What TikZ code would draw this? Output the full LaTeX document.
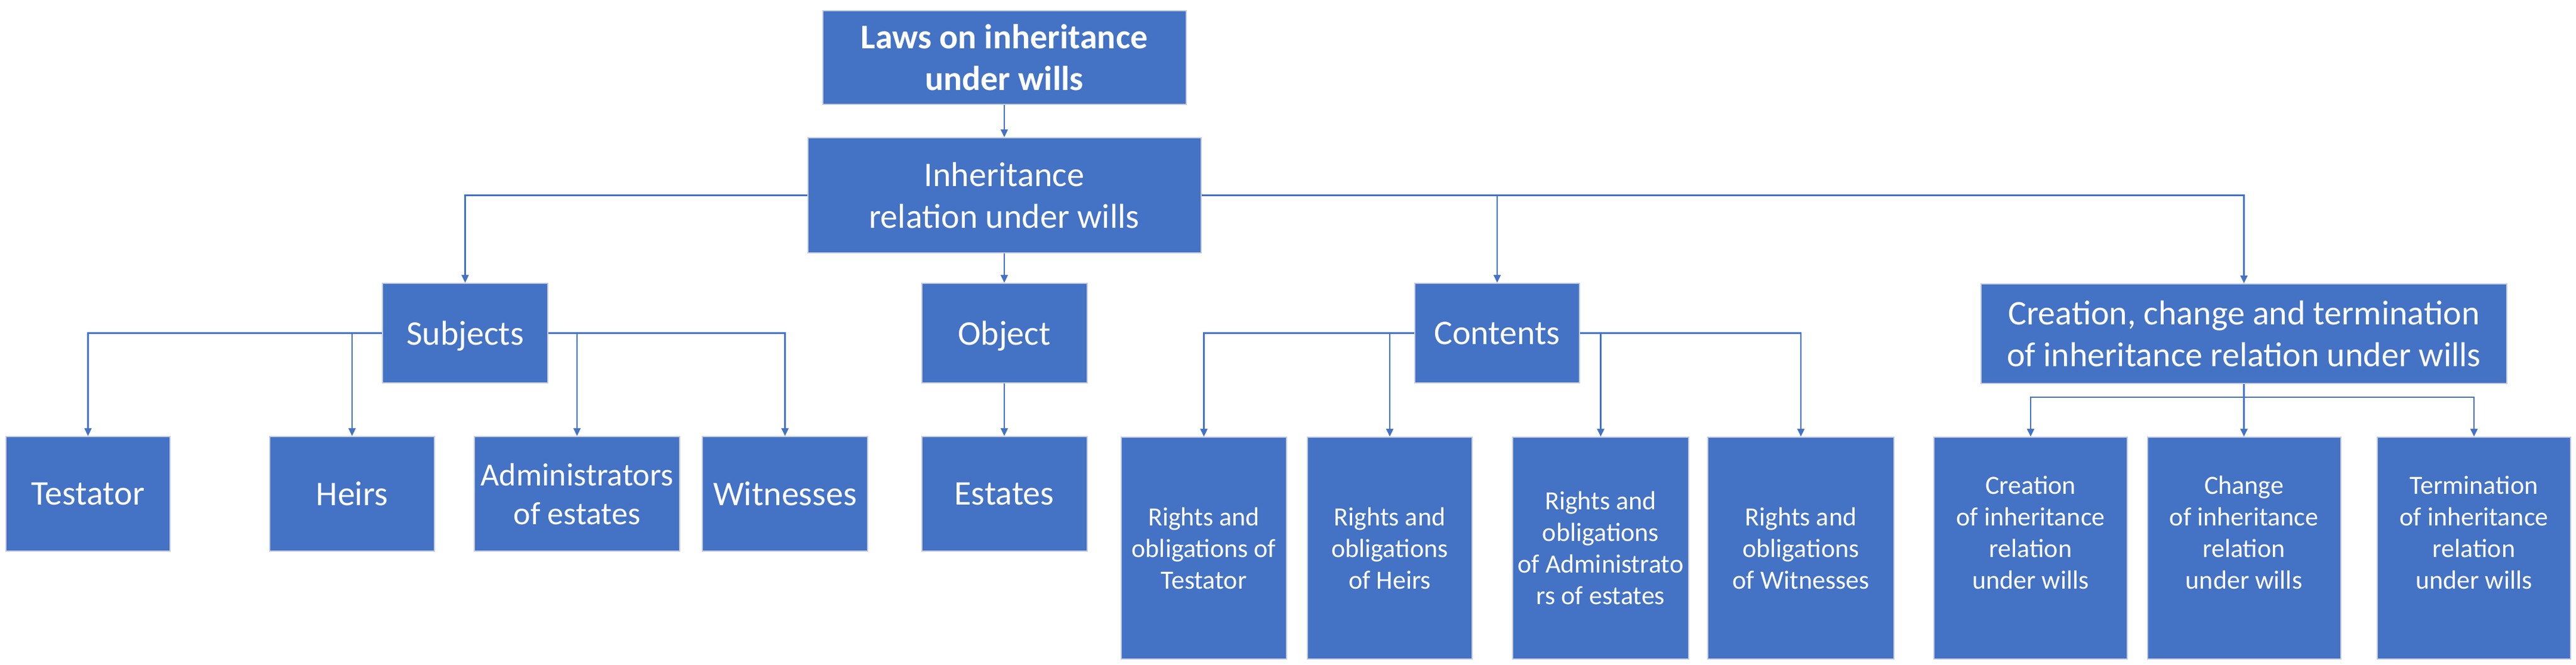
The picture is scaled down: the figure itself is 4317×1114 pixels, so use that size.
\documentclass[tikz,border=0pt]{standalone}
\usepackage{fontspec}
\setmainfont{Carlito}
\usetikzlibrary{arrows.meta}
\definecolor{boxblue}{HTML}{4472C4}
\definecolor{boxedge}{HTML}{C4CCDC}
\definecolor{linkblue}{HTML}{4472C4}
\newcommand{\bigtxt}{\fontsize{58}{70}\selectfont}
\newcommand{\midtxt}{\fontsize{54}{65}\selectfont}
\newcommand{\smalltxt}{\fontsize{44}{53}\selectfont}
\begin{document}
\begin{tikzpicture}[x=1pt,y=-1pt,
  nbox/.style={rectangle, fill=boxblue, draw=boxedge, line width=2pt, text=white, align=center, inner sep=0pt},
  onel/.style={nbox, font=\bigtxt, text depth=0pt},
  twol/.style={nbox, font=\bigtxt},
  smallbox/.style={nbox, font=\smalltxt, minimum height=372pt},
  lowbox/.style={onel, minimum height=192pt},
  conn/.style={draw=linkblue, line width=2.2pt, -{Triangle[length=13pt,width=12pt]}},
  plain/.style={draw=linkblue, line width=2.2pt}
]
\useasboundingbox (0,0) rectangle (4317,1114);

% level 0 and 1
\node[twol, font=\bigtxt\bfseries, minimum width=609pt, minimum height=157pt] (top) at (1683,96.5) {Laws on inheritance\\under wills};
\node[twol, minimum width=659pt, minimum height=193pt] (inh) at (1683,327.5) {Inheritance\\relation under wills};

% level 2
\node[onel, minimum width=277pt, minimum height=167pt] (subj) at (779.5,558.5) {Subjects};
\node[onel, minimum width=277pt, minimum height=167pt] (obj) at (1683,558.5) {Object};
\node[onel, minimum width=276pt, minimum height=167pt] (cont) at (2509,558.5) {Contents};
\node[twol, minimum width=881pt, minimum height=167pt] (crea) at (3760.5,559.5) {Creation, change and termination\\of inheritance relation under wills};

% level 3 (subjects, object)
\node[lowbox, minimum width=275pt] (test) at (147.5,828) {Testator};
\node[lowbox, minimum width=276pt] (heirs) at (590,828) {Heirs};
\node[nbox, font=\midtxt, minimum width=344pt, minimum height=192pt] (admin) at (967,828) {Administrators\\of estates};
\node[lowbox, minimum width=277pt] (witn) at (1315.5,828) {Witnesses};
\node[lowbox, minimum width=277pt] (est) at (1683,828) {Estates};

% level 3 (contents)
\node[smallbox, minimum width=277pt] (rt) at (2017.5,919) {Rights and\\obligations of\\Testator};
\node[smallbox, minimum width=276pt] (rh) at (2329,919) {Rights and\\obligations\\of Heirs};
\node[smallbox, minimum width=295pt] (ra) at (2682.5,919) {Rights and\\obligations\\of Administrato\\rs of estates};
\node[smallbox, minimum width=312pt] (rw) at (3018,919) {Rights and\\obligations\\of Witnesses};

% level 3 (creation)
\node[smallbox, minimum width=324pt] (cc) at (3403,919) {Creation\\of inheritance\\relation\\under wills\\\mbox{}};
\node[smallbox, minimum width=324pt] (ch) at (3760.5,919) {Change\\of inheritance\\relation\\under wills\\\mbox{}};
\node[smallbox, minimum width=324pt] (ct) at (4146,919) {Termination\\of inheritance\\relation\\under wills\\\mbox{}};

\coordinate (cj) at (3760.5,666);

% connectors
\draw[conn] (top.south) -- (inh.north);
\draw[conn] (inh.west) -| (subj.north);
\draw[conn] (inh.south) -- (obj.north);
\draw[conn] (inh.east) -| (cont.north);
\draw[conn] (inh.east) -| (crea.north);

\draw[conn] (subj.west) -| (test.north);
\draw[conn] (subj.west) -| (heirs.north);
\draw[conn] (subj.east) -| (admin.north);
\draw[conn] (subj.east) -| (witn.north);

\draw[conn] (obj.south) -- (est.north);

\draw[conn] (cont.west) -| (rt.north);
\draw[conn] (cont.west) -| (rh.north);
\draw[conn] (cont.east) -| (ra.north);
\draw[conn] (cont.east) -| (rw.north);

\draw[plain] (crea.south) -- (cj);
\draw[conn] (cj) -| (cc.north);
\draw[conn] (cj) -- (ch.north);
\draw[conn] (cj) -| (ct.north);
\end{tikzpicture}
\end{document}
